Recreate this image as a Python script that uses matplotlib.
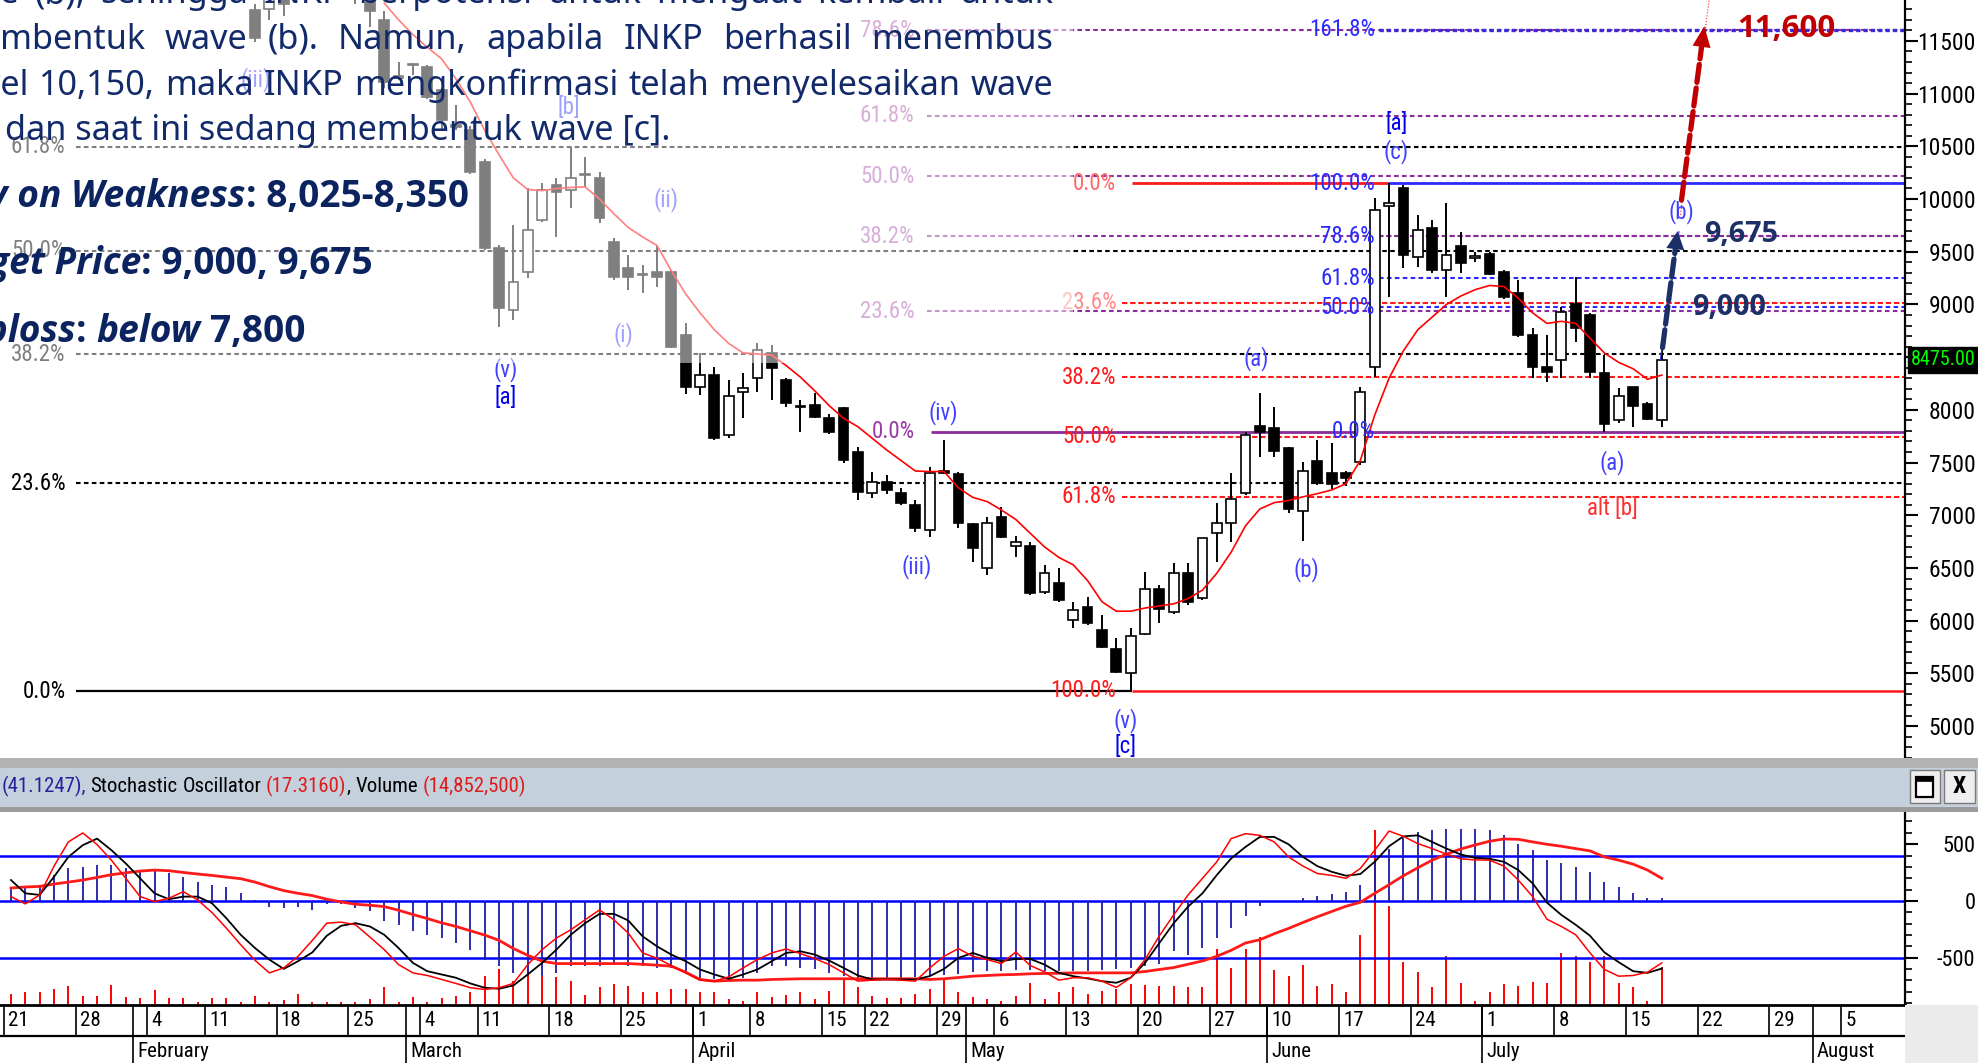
import numpy as np
import matplotlib
matplotlib.use("Agg")
import matplotlib.pyplot as plt
from matplotlib import font_manager
from matplotlib.patches import Rectangle
from matplotlib.ticker import MultipleLocator, FixedLocator, FuncFormatter

# ---------------------------------------------------------------- data
candle_idx = list(range(17, 116))          # trading-day index (0 = 21 Jan)
opens = [11795, 11800, 11950, 11900, 12050, 12200, 12150, 12000, 11900, 11700,
         11150, 11270, 11254, 11036, 10700, 10657, 10353, 9537, 8949, 9309,
         9803, 10135, 10087, 10230, 10201, 9594, 9347, 9281, 9309, 9309,
         8712, 8218, 8332, 7763, 8171, 8304, 8541, 8285, 8028, 8047,
         7924, 8019, 7602, 7212, 7317, 7212, 7099, 6861, 7421, 7393,
         6918, 6501, 6985, 6710, 6710, 6273, 6359, 6008, 6131, 5913,
         5732, 5504, 5875, 6302, 6083, 6454, 6216, 6833, 6928, 7212,
         7848, 7829, 7639, 7042, 7516, 7402, 7402, 7507, 8408, 9935,
         10106, 9451, 9727, 9328, 9556, 9445, 9480, 9309, 9110, 8712,
         8408, 8474, 9006, 8901, 8351, 7905, 8218, 8057, 7905]
highs = [11850, 12000, 12050, 12150, 12300, 12350, 12250, 12100, 12000, 11780,
         11302, 11292, 11273, 11050, 10894, 10690, 10380, 9560, 9755, 10100,
         10150, 10201, 10495, 10400, 10258, 9632, 9470, 9376, 9565, 9330,
         8825, 8541, 8408, 8285, 8351, 8636, 8617, 8300, 8095, 8161,
         7960, 8030, 7649, 7412, 7380, 7260, 7146, 7459, 7715, 7412,
         6930, 6985, 7080, 6804, 6750, 6529, 6501, 6178, 6226, 6055,
         5837, 5932, 6463, 6340, 6548, 6548, 6785, 7118, 7402, 7790,
         8161, 8028, 7650, 7507, 7715, 7687, 7420, 8218, 10011, 10154,
         10135, 9850, 9800, 9964, 9689, 9500, 9500, 9330, 9230, 8778,
         8712, 8977, 9262, 8920, 8522, 8209, 8218, 8070, 8588]
lows = [11490, 11700, 11740, 11900, 12000, 12050, 11950, 11850, 11630, 11050,
        11131, 11178, 10950, 10657, 10657, 10240, 9520, 8787, 8854, 9250,
        9780, 9641, 9916, 10116, 9774, 9233, 9139, 9110, 9167, 8590,
        8152, 8142, 7715, 7734, 7924, 8171, 8095, 8028, 7791, 7924,
        7770, 7500, 7146, 7165, 7200, 7100, 6842, 6795, 7390, 6880,
        6558, 6435, 6780, 6605, 6240, 6250, 6180, 5932, 5960, 5740,
        5500, 5343, 5860, 5979, 6060, 6150, 6200, 6558, 6748, 7190,
        7554, 7554, 7020, 6757, 7290, 7250, 7280, 7480, 8313, 9072,
        9347, 9357, 9300, 9072, 9300, 9400, 9280, 9050, 8690, 8304,
        8266, 8304, 8645, 8300, 7791, 7880, 7839, 7900, 7839]
closes = [11529, 11950, 11850, 12050, 12200, 12150, 12000, 11900, 11780, 11112,
          11170, 11280, 10970, 10751, 10685, 10258, 9537, 8968, 9214, 9708,
          10087, 10068, 10201, 10240, 9821, 9262, 9262, 9290, 9262, 8598,
          8218, 8332, 7734, 8133, 8209, 8569, 8398, 8066, 8040, 7934,
          7791, 7526, 7222, 7317, 7241, 7118, 6880, 7402, 7402, 6928,
          6691, 6928, 6795, 6747, 6264, 6454, 6197, 6102, 5979, 5751,
          5514, 5856, 6302, 6112, 6454, 6178, 6785, 6928, 7156, 7763,
          7791, 7611, 7061, 7421, 7307, 7298, 7355, 8171, 9898, 9964,
          9470, 9708, 9328, 9470, 9395, 9451, 9290, 9072, 8712, 8408,
          8360, 8930, 8778, 8360, 7867, 8133, 8038, 7915, 8474]

ma_idx = list(range(26, 116))
ma_vals = [11860, 11700, 11560, 11440, 11330, 11140, 10920, 10650, 10420, 10200,
           10090, 10080, 10100, 10110, 10115, 10000, 9860, 9730, 9640, 9560,
           9320, 9100, 8920, 8760, 8630, 8540, 8530, 8520, 8420, 8310,
           8180, 8040, 7920, 7840, 7730, 7620, 7520, 7420, 7415, 7415,
           7260, 7170, 7130, 7050, 6960, 6830, 6700, 6600, 6530, 6380,
           6180, 6090, 6090, 6120, 6140, 6160, 6210, 6290, 6450, 6650,
           6900, 7060, 7120, 7140, 7175, 7205, 7240, 7300, 7520, 7950,
           8300, 8560, 8760, 8880, 9000, 9080, 9140, 9180, 9170, 9060,
           8920, 8820, 8840, 8820, 8680, 8540, 8450, 8390, 8290, 8330]

osc_idx = list(range(0, 116))
volume_m = [4.3, 5.0, 5.0, 6.3, 7.6, 3.4, 3.4, 7.9, 3.0, 2.6,
            6.0, 2.6, 2.8, 1.3, 2.6, 2.6, 1.3, 3.4, 1.3, 2.1,
            4.3, 1.1, 1.3, 1.3, 1.3, 2.4, 7.0, 1.3, 3.0, 1.3,
            2.6, 3.7, 5.0, 11.6, 14.2, 9.6, 14.2, 11.6, 10.9, 9.6,
            3.9, 7.0, 8.3, 7.6, 5.0, 5.0, 6.3, 6.3, 5.0, 5.0,
            2.4, 1.7, 5.0, 3.0, 3.9, 5.0, 2.4, 5.6, 10.2, 7.0,
            3.7, 2.6, 2.6, 4.3, 6.3, 10.2, 5.0, 3.0, 2.4, 1.7,
            3.4, 8.5, 2.4, 5.0, 7.0, 4.3, 5.6, 6.3, 8.3, 7.9,
            7.6, 7.6, 7.0, 7.0, 22.1, 14.4, 22.1, 26.7, 13.9, 11.6,
            15.8, 7.6, 8.3, 5.0, 27.6, 69.1, 39.1, 16.8, 12.9, 7.0,
            19.2, 8.7, 1.7, 5.0, 8.3, 7.6, 9.2, 8.7, 20.4, 19.4,
            16.8, 19.4, 8.7, 7.0, 1.7, 14.85]
macd_hist = [111, 111, 140, 228, 286, 301, 315, 315, 286, 272,
             272, 242, 213, 169, 140, 126, 67, 5, -50, -64,
             -50, -79, -26, -26, -64, -93, -181, -210, -269, -298,
             -327, -371, -429, -517, -575, -634, -634, -663, -634, -575,
             -575, -575, -561, -575, -575, -590, -590, -634, -692, -692,
             -698, -677, -634, -575, -575, -590, -604, -634, -663, -680,
             -690, -680, -680, -670, -660, -650, -640, -630, -620, -615,
             -610, -610, -615, -615, -619, -619, -610, -600, -590, -575,
             -560, -444, -473, -415, -327, -239, -137, -44, 0, 0,
             23, 44, 58, 76, 140, 359, 461, 558, 607, 628,
             637, 637, 637, 622, 578, 505, 447, 359, 330, 301,
             257, 169, 126, 73, 29, 23]
stoch_k = [38, -26, 53, 307, 520, 599, 496, 359, 199, 38,
           -6, 23, 82, 9, -102, -239, -385, -523, -634, -590,
           -488, -347, -196, -187, -210, -318, -429, -561, -634, -657,
           -692, -727, -765, -780, -765, -727, -561, -429, -327, -254,
           -166, -79, -166, -283, -458, -505, -569, -634, -698, -707,
           -669, -590, -517, -458, -423, -464, -508, -561, -634, -707,
           -698, -692, -698, -707, -590, -488, -420, -488, -517, -552,
           -450, -569, -625, -698, -677, -677, -707, -762, -677, -517,
           -307, -123, 53, 199, 345, 549, 593, 578, 520, 388,
           307, 242, 225, 199, 286, 447, 616, 569, 505, 461,
           412, 371, 362, 359, 307, 184, 38, -161, -225, -298,
           -458, -604, -663, -657, -628, -546]
stoch_d = [184, 67, 53, 213, 388, 491, 549, 447, 330, 199,
           67, 15, 38, 38, -20, -152, -298, -415, -517, -599,
           -531, -453, -307, -219, -196, -225, -298, -415, -546, -619,
           -648, -677, -727, -765, -774, -745, -648, -546, -429, -298,
           -196, -114, -114, -172, -312, -400, -473, -531, -604, -648,
           -686, -648, -604, -531, -458, -444, -473, -526, -590, -657,
           -692, -692, -692, -692, -663, -599, -502, -458, -502, -531,
           -511, -511, -561, -634, -663, -683, -707, -721, -677, -546,
           -371, -196, -50, 67, 228, 374, 476, 564, 564, 499,
           388, 307, 257, 222, 237, 345, 482, 569, 578, 520,
           461, 409, 380, 371, 345, 272, 155, -15, -123, -210,
           -307, -453, -540, -619, -634, -596]
stoch_signal = [114, 123, 128, 149, 166, 184, 207, 231, 248, 263,
                272, 266, 251, 237, 225, 210, 196, 166, 126, 91,
                67, 47, 15, -9, -29, -38, -50, -82, -120, -155,
                -193, -225, -263, -301, -347, -420, -479, -531, -552, -552,
                -552, -552, -552, -552, -558, -566, -575, -628, -692, -707,
                -701, -698, -698, -692, -689, -686, -686, -686, -686, -686,
                -686, -686, -686, -686, -692, -686, -675, -663, -657, -651,
                -648, -642, -639, -637, -634, -634, -634, -634, -634, -622,
                -604, -587, -558, -529, -488, -435, -371, -342, -289, -242,
                -190, -140, -93, -47, -12, 67, 143, 222, 292, 359,
                412, 458, 493, 526, 546, 543, 520, 499, 482, 461,
                441, 388, 359, 324, 272, 199]
osc_levels = [400, 0, -500]

price_ticks = list(range(5000, 11501, 500))
osc_ticks = [-500, 0, 500]
week_start_idx = [0, 5, 10, 14, 19, 24, 29, 33, 38, 43, 48, 52, 57, 60, 65, 69, 74,
                  79, 84, 88, 93, 98, 103, 108, 113, 118, 123, 128]
week_labels = ['21', '28', '4', '11', '18', '25', '4', '11', '18', '25', '1', '8', '15',
               '22', '29', '6', '13', '20', '27', '10', '17', '24', '1', '8', '15',
               '22', '29', '5']
month_start_idx = [9, 28, 48, 67, 88, 103, 126]
month_labels = ['February', 'March', 'April', 'May', 'June', 'July', 'August']

# Fibonacci drawings (anchor prices)
fib_left = dict(low=5333, high=13690, ratios=[0.236, 0.382, 0.5, 0.618])
fib_pink = dict(low=7794, high=12640, ratios=[0.236, 0.382, 0.5, 0.618, 0.786])
fib_red = dict(top=10150, bottom=5337, ratios=[0.236, 0.382, 0.5, 0.618])
fib_blue = dict(low=7794, high=10151, ratios=[0.5, 0.618, 0.786])
fib_blue_ext = 1.618
last_close = 8475.00
target_1, target_2, target_3 = 9000, 9675, 11600

# ---------------------------------------------------------------- fonts
TTF = font_manager.fontManager.ttflist


def _w(f):
    return f.weight if isinstance(f.weight, int) else font_manager.weight_dict.get(f.weight, 400)


def has_font(name, bold=False, italic=False, stretch=None):
    for f in TTF:
        if f.name != name:
            continue
        if bold and _w(f) < 600:
            continue
        if italic and f.style not in ('italic', 'oblique'):
            continue
        if stretch and f.stretch not in stretch:
            continue
        return True
    return False


NARROW, NSTRETCH, NS = None, 'normal', 1.0
for cand in ['Liberation Sans Narrow', 'Arial Narrow', 'Roboto Condensed', 'Open Sans Condensed',
             'Noto Sans Condensed', 'DejaVu Sans Condensed']:
    if has_font(cand):
        NARROW = cand
        break
if NARROW is None:
    for fam in ['Noto Sans', 'DejaVu Sans', 'Open Sans']:
        if has_font(fam, stretch=('condensed', 'semi-condensed', 'extra-condensed')):
            NARROW, NSTRETCH, NS = fam, 'condensed', 0.97
            break
if NARROW is None:
    NARROW, NS = ('Liberation Sans', 0.9) if has_font('Liberation Sans') else ('DejaVu Sans', 0.8)

PARA = 'Noto Sans' if has_font('Noto Sans') else 'DejaVu Sans'
BOLD = next((f for f in ['Open Sans', 'Noto Sans', 'Lato', 'Roboto', 'Inter'] if has_font(f, bold=True)),
            'DejaVu Sans')
BOLDIT = next((f for f in [BOLD, 'Open Sans', 'Noto Sans', 'Lato', 'Roboto', 'DejaVu Sans']
               if has_font(f, bold=True, italic=True)), 'DejaVu Sans')

plt.rcParams['font.family'] = [NARROW, 'DejaVu Sans']
plt.rcParams['font.stretch'] = NSTRETCH

W, H = 1978, 1063
SX = W / 1568.0
fig = plt.figure(figsize=(W / 100, H / 100), dpi=100)
fig.patch.set_facecolor('white')
R = fig.canvas.get_renderer()

XL, XR = -0.764, 131.93


def XP(xs):  # reference-layout x (px of 1568 frame) -> index units (for labels)
    return (xs - 3) / 11.38 - 0.5


# ---------------------------------------------------------------- main panel
ax = fig.add_axes([0, 1 - 601 / 843, 1510 / 1568, 601 / 843])
ax.set_xlim(XL, XR)
ax.set_ylim(4699, 11888)
for s in ['left', 'top', 'bottom']:
    ax.spines[s].set_visible(False)
ax.spines['right'].set_linewidth(1.6)
ax.set_xticks([])
ax.yaxis.tick_right()
ax.yaxis.set_major_locator(FixedLocator(price_ticks))
ax.yaxis.set_minor_locator(MultipleLocator(100))
ax.yaxis.set_major_formatter(FuncFormatter(lambda v, p: '' if abs(v - 8500) < 1 else f'{int(v)}'))
ax.tick_params(axis='y', which='major', length=9, width=1.5, pad=41.8, labelsize=17 * NS)
ax.tick_params(axis='y', which='minor', length=5, width=1.2)
plt.setp(ax.get_yticklabels(), ha='right')


def hl(y, x0, x1, color, ls='-', lw=1.5, z=2):
    ax.plot([x0, x1], [y, y], color=color, ls=ls, lw=lw, zorder=z, solid_capstyle='butt')


DASH = (0, (2.2, 1.6))
RDASH = (0, (2.6, 1.3))
BLK, PUR, RED, BLU = '#000000', '#8b2a9b', '#ff1a1a', '#2a2aff'

for r in fib_left['ratios']:
    hl(fib_left['low'] + r * (fib_left['high'] - fib_left['low']), 4.5, XR, BLK, DASH)
hl(fib_left['low'], 4.5, 78.1, BLK, '-', 1.6)
for r in fib_pink['ratios']:
    hl(fib_pink['low'] + r * (fib_pink['high'] - fib_pink['low']), 63.8, XR, PUR, DASH)
hl(fib_pink['low'], 64.1, XR, PUR, '-', 2.0)
for r in fib_red['ratios']:
    hl(fib_red['top'] - r * (fib_red['top'] - fib_red['bottom']), 77.4, XR, RED, RDASH)
hl(fib_red['top'], 78.1, 95.9, RED, '-', 2.0)
hl(fib_red['bottom'], 78.1, XR, RED, '-', 1.8)
for r in fib_blue['ratios']:
    col = PUR if r == 0.786 else BLU
    hl(fib_blue['low'] + r * (fib_blue['high'] - fib_blue['low']), 95.3, XR, col, DASH)
hl(fib_blue['low'] + fib_blue_ext * (fib_blue['high'] - fib_blue['low']), 95.3, XR, '#3b2bd6',
   (0, (1.3, 0.9)), 2.4)
hl(fib_blue['high'], 95.9, XR, BLU, '-', 2.0)

# candles
ci = np.array(candle_idx)
o, h, l, c = (np.array(v, float) for v in (opens, highs, lows, closes))
ax.vlines(ci, l, h, colors='black', lw=1.4, zorder=4)
bh = np.maximum(np.abs(c - o), 14)
bb = np.minimum(o, c) - (bh - np.abs(c - o)) / 2
ax.bar(ci, bh, bottom=bb, width=0.68, color=['white' if u else 'black' for u in (c >= o)],
       edgecolor='black', linewidth=1.2, zorder=5)
ax.plot(ma_idx, ma_vals, color='#ff0000', lw=1.2, zorder=6)

# fib labels
FL = dict(fontsize=16.5 * NS, va='center', ha='right', zorder=7)
for lab, r in zip(['23.6%', '38.2%', '50.0%', '61.8%'], fib_left['ratios']):
    ax.text(XP(52), fib_left['low'] + r * (fib_left['high'] - fib_left['low']), lab, color=BLK, **FL)
ax.text(XP(52), fib_left['low'], '0.0%', color=BLK, **FL)
for lab, r in zip(['23.6%', '38.2%', '50.0%', '61.8%', '78.6%'], fib_pink['ratios']):
    ax.text(XP(725), fib_pink['low'] + r * (fib_pink['high'] - fib_pink['low']), lab, color='#b25fb2', **FL)
ax.text(XP(725), fib_pink['low'], '0.0%', color='#9a3aa8', **FL)
for lab, r in zip(['23.6%', '38.2%', '50.0%', '61.8%'], fib_red['ratios']):
    ax.text(XP(885), fib_red['top'] - r * (fib_red['top'] - fib_red['bottom']), lab,
            color='#ff8c8c' if r == 0.236 else RED, **FL)
ax.text(XP(885), fib_red['top'], '0.0%', color='#ff6a6a', **FL)
ax.text(XP(885), fib_red['bottom'], '100.0%', color=RED, **FL)
for lab, r in zip(['50.0%', '61.8%', '78.6%'], fib_blue['ratios']):
    ax.text(XP(1090), fib_blue['low'] + r * (fib_blue['high'] - fib_blue['low']), lab, color=BLU, **FL)
ax.text(XP(1090), fib_blue['low'], '0.0%', color=BLU, **FL)
ax.text(XP(1090), fib_blue['high'], '100.0%', color=BLU, **FL)
ax.text(XP(1090), fib_blue['low'] + fib_blue_ext * (fib_blue['high'] - fib_blue['low']), '161.8%',
        color=BLU, **FL)

# wave labels
WL = dict(fontsize=16.5 * NS, ha='center', va='center', zorder=7)
waves = [('(v)', 401, 8383, '#4040ff'), ('[a]', 401, 8120, '#0000ee'), ('[b]', 451, 10871, '#4040ff'),
         ('(ii)', 528, 9998, '#4040ff'), ('(i)', 494, 8718, '#4040ff'), ('(iii)', 203, 11134, '#4040ff'),
         ('(iv)', 748, 7976, '#4040ff'), ('(iii)', 727, 6517, '#4040ff'), ('(v)', 892, 5057, '#4040ff'),
         ('[c]', 892, 4806, '#0000ee'), ('(a)', 996, 8490, '#4040ff'), ('(b)', 1036, 6481, '#4040ff'),
         ('[a]', 1107, 10715, '#0000ee'), ('(c)', 1107, 10452, '#4040ff'), ('(a)', 1278, 7498, '#4040ff'),
         ('alt [b]', 1278, 7067, '#ff3030'), ('(b)', 1333, 9878, '#4040ff')]
for t, xs, p, col in waves:
    ax.text(XP(xs), p, t, color=col, **WL)

# faded overlay behind the text box
ax.add_patch(Rectangle((XL - 1, 8443), 74.0 - XL + 1, 5000, facecolor='white', alpha=0.5,
                       edgecolor='none', zorder=9))

# projection arrows
ax.plot([114.9, 116.2], [8480, 9690], color='#3030ff', lw=0.8, zorder=11)
ax.plot([116.3, 118.3], [9850, 11888], color='#ff2020', lw=0.8, ls=':', zorder=11)
for (x0, y0), (x1, y1), col, hlen in [((115.05, 8590), (116.1, target_2 + 20), '#1c2f66', 13),
                                       ((116.37, 9990), (117.96, 11640), '#c00000', 15)]:
    ax.annotate('', xy=(x1, y1), xytext=(x0, y0),
                arrowprops=dict(arrowstyle='-', lw=3.8, ls=(0, (3.4, 1.1)), color=col,
                                shrinkA=0, shrinkB=hlen - 2), zorder=12)
    ax.annotate('', xy=(x1, y1), xytext=(x0, y0),
                arrowprops=dict(arrowstyle=f'-|>,head_length={hlen},head_width=6.5', lw=0.01,
                                color=col, shrinkA=0, shrinkB=0, mutation_scale=1), zorder=12)

# last price tag
ax.text(1540.5 / 1510, last_close, '8475.00', transform=ax.get_yaxis_transform(), ha='center',
        va='center', color='#00ff00', fontsize=14.5 * NS, zorder=20, clip_on=False,
        bbox=dict(facecolor='black', edgecolor='black', pad=2.5))

# ---------------------------------------------------------------- header bar
for y0, y1, col in [(601, 609, '#b2b2b2'), (609, 640, '#c5d0dd'), (640, 644, '#9c9c9c')]:
    fig.add_artist(Rectangle((0, 1 - y1 / 843), 1, (y1 - y0) / 843, transform=fig.transFigure,
                             facecolor=col, edgecolor='none'))
for x0, x1 in [(1514, 1538), (1541, 1566)]:
    fig.add_artist(Rectangle((x0 / 1568, 1 - 637 / 843), (x1 - x0) / 1568, 26 / 843,
                             transform=fig.transFigure, facecolor='#eeeeee', edgecolor='#7a7a7a', lw=1))
fig.add_artist(Rectangle((1519 / 1568, 1 - 632 / 843), 13 / 1568, 16 / 843, transform=fig.transFigure,
                         facecolor='white', edgecolor='black', lw=1.6))
fig.add_artist(Rectangle((1519 / 1568, 1 - 619 / 843), 13 / 1568, 3 / 843, transform=fig.transFigure,
                         facecolor='black', edgecolor='black', lw=0.5))
fig.text(1553.5 / 1568, 1 - 624 / 843, 'X', ha='center', va='center', fontsize=17 * NS,
         fontweight='bold', color='black')


def measure(s, **kw):
    t = fig.text(0, 0, s, **kw)
    w = t.get_window_extent(renderer=R).width
    t.remove()
    return w


def chain(pieces, x_px, ys_base):
    """pieces: (text, props) ; ' ' entries add a measured space of the previous props"""
    x = x_px
    last = None
    for s, props in pieces:
        if s == ' ':
            x += measure('a a', **last) - measure('aa', **last)
            continue
        t = fig.text(x / W, 1 - ys_base / 843, s, ha='left', va='baseline', **props)
        x += t.get_window_extent(renderer=R).width
        last = props
    return x


hdr = dict(fontsize=15 * NS, family=[NARROW, 'DejaVu Sans'])
chain([('(41.1247),', dict(hdr, color='#22229a')), (' ', None),
       ('Stochastic', dict(hdr, color='black')), (' ', None), ('Oscillator', dict(hdr, color='black')),
       (' ', None), ('(17.3160)', dict(hdr, color='#e01b1b')), (',', dict(hdr, color='black')), (' ', None),
       ('Volume', dict(hdr, color='black')), (' ', None), ('(14,852,500)', dict(hdr, color='#e01b1b'))],
      1 * SX, 628)

# ---------------------------------------------------------------- oscillator panel
ax2 = fig.add_axes([0, 1 - 797 / 843, 1510 / 1568, (797 - 644) / 843])
ax3 = ax2.twinx()
ax3.set_zorder(ax2.get_zorder() - 1)
ax2.patch.set_visible(False)
ax3.set_ylim(0, 76.0)
ax3.set_xlim(XL, XR)
ax3.vlines(osc_idx, 0, volume_m, colors='#ff0000', lw=1.4)
ax3.set_yticks([])
for s in ax3.spines.values():
    s.set_visible(False)

ax2.set_xlim(XL, XR)
ax2.set_ylim(-917, 783)
for s in ['left', 'top']:
    ax2.spines[s].set_visible(False)
ax2.spines['right'].set_linewidth(1.6)
ax2.spines['bottom'].set_linewidth(2.0)
ax2.set_xticks([])
ax2.yaxis.tick_right()
ax2.yaxis.set_major_locator(FixedLocator(osc_ticks))
ax2.yaxis.set_minor_locator(MultipleLocator(100))
ax2.yaxis.set_major_formatter(FuncFormatter(lambda v, p: f'{int(v)}'))
ax2.tick_params(axis='y', which='major', length=9, width=1.5, pad=41.8, labelsize=16 * NS)
ax2.tick_params(axis='y', which='minor', length=5, width=1.2)
plt.setp(ax2.get_yticklabels(), ha='right')
for lv in osc_levels:
    ax2.axhline(lv, color='#0000ff', lw=1.8, zorder=2)
ax2.vlines(osc_idx, 0, macd_hist, colors='#1c1ca8', lw=1.3, zorder=3)
ax2.plot(osc_idx, stoch_signal, color='#ff1a1a', lw=2.0, zorder=4)
ax2.plot(osc_idx, stoch_d, color='black', lw=1.3, zorder=5)
ax2.plot(osc_idx, stoch_k, color='#ff0000', lw=1.1, zorder=6)

# ---------------------------------------------------------------- date strip
ax4 = fig.add_axes([0, 0, 1510 / 1568, 46 / 843])
ax4.set_xlim(XL, XR)
ax4.set_ylim(0, 1)
ax4.axis('off')
ax4.axhline(0.47, color='black', lw=1.6)
ax4.vlines(np.array(week_start_idx) - 0.5, 0.47, 1, colors='black', lw=1.2)
ax4.vlines(np.array(month_start_idx) - 0.5, 0, 1, colors='black', lw=1.2)
for s_, lab in zip(week_start_idx, week_labels):
    ax4.text(s_ - 0.5 + 0.3, 0.73, lab, ha='left', va='center', fontsize=15 * NS)
for s_, lab in zip(month_start_idx, month_labels):
    ax4.text(s_ - 0.5 + 0.3, 0.2, lab, ha='left', va='center', fontsize=15 * NS)
fig.add_artist(Rectangle((1510 / 1568, 0), 58 / 1568, 46 / 843, transform=fig.transFigure,
                         facecolor='#ebebeb', edgecolor='none'))

# ---------------------------------------------------------------- commentary text
NAVY = '#12296a'
PK = dict(family=PARA, stretch='normal', color=NAVY)
pfs = 20 * (528 * SX) / measure('dan saat ini sedang membentuk wave [c].', fontsize=20, **PK)
PK['fontsize'] = pfs
RIGHT_PX = 835 * SX
justified = [
    (2.5, 'wav', ['wave', '(b),', 'sehingga', 'INKP', 'berpotensi', 'untuk', 'menguat', 'kembali', 'untuk']),
    (38.5, 'me', ['membentuk', 'wave', '(b).', 'Namun,', 'apabila', 'INKP', 'berhasil', 'menembus']),
    (75, 'lev', ['level', '10,150,', 'maka', 'INKP', 'mengkonfirmasi', 'telah', 'menyelesaikan', 'wave']),
]
for yb, cut, words in justified:
    widths = [measure(w_, **PK) for w_ in words]
    x0 = -measure(cut, **PK)
    gap = (RIGHT_PX - x0 - sum(widths)) / (len(words) - 1)
    x = x0
    for w_, wd in zip(words, widths):
        fig.text(x / W, 1 - yb / 843, w_, ha='left', va='baseline', **PK)
        x += wd + gap
fig.text(4 / 1568, 1 - 111 / 843, 'dan saat ini sedang membentuk wave [c].', ha='left', va='baseline', **PK)

BCOL = '#0b2460'
bfs = 20 * (177 * SX) / measure(': 8,025-8,350', fontsize=20, family=BOLD, stretch='normal', weight='bold')
BK = dict(fontsize=bfs, family=BOLD, stretch='normal', color=BCOL, fontweight='bold')
BI = dict(fontsize=bfs, family=BOLDIT, stretch='normal', color=BCOL, fontweight='bold', style='italic')
fig.text(195 / 1568, 1 - 164 / 843, 'Buy on Weakness', ha='right', va='baseline', **BI)
chain([(': 8,025-8,350', BK)], 195 * SX, 164)
fig.text(112 / 1568, 1 - 217 / 843, 'Target Price', ha='right', va='baseline', **BI)
chain([(f': {target_1:,}, {target_2:,}', BK)], 112 * SX, 217)
fig.text(60 / 1568, 1 - 271 / 843, 'Stoploss', ha='right', va='baseline', **BI)
chain([(':', BK), (' ', None), ('below', BI), (' ', None), ('7,800', BK)], 60 * SX, 271)

TB = dict(family=BOLD, stretch='normal', fontweight='bold')
tfs = 20 * (78 * SX) / measure('11,600', fontsize=20, **TB)
fig.text(1377 / 1568, 1 - 29 / 843, f'{target_3:,}', ha='left', va='baseline', fontsize=tfs,
         color='#c00000', **TB)
fig.text(1351 / 1568, 1 - 192 / 843, f'{target_2:,}', ha='left', va='baseline', fontsize=tfs * 0.92,
         color='#1c2f66', **TB)
fig.text(1341 / 1568, 1 - 250 / 843, f'{target_1:,}', ha='left', va='baseline', fontsize=tfs * 0.92,
         color='#1c2f66', **TB)

fig.savefig('out.png', dpi=100, facecolor='white')
